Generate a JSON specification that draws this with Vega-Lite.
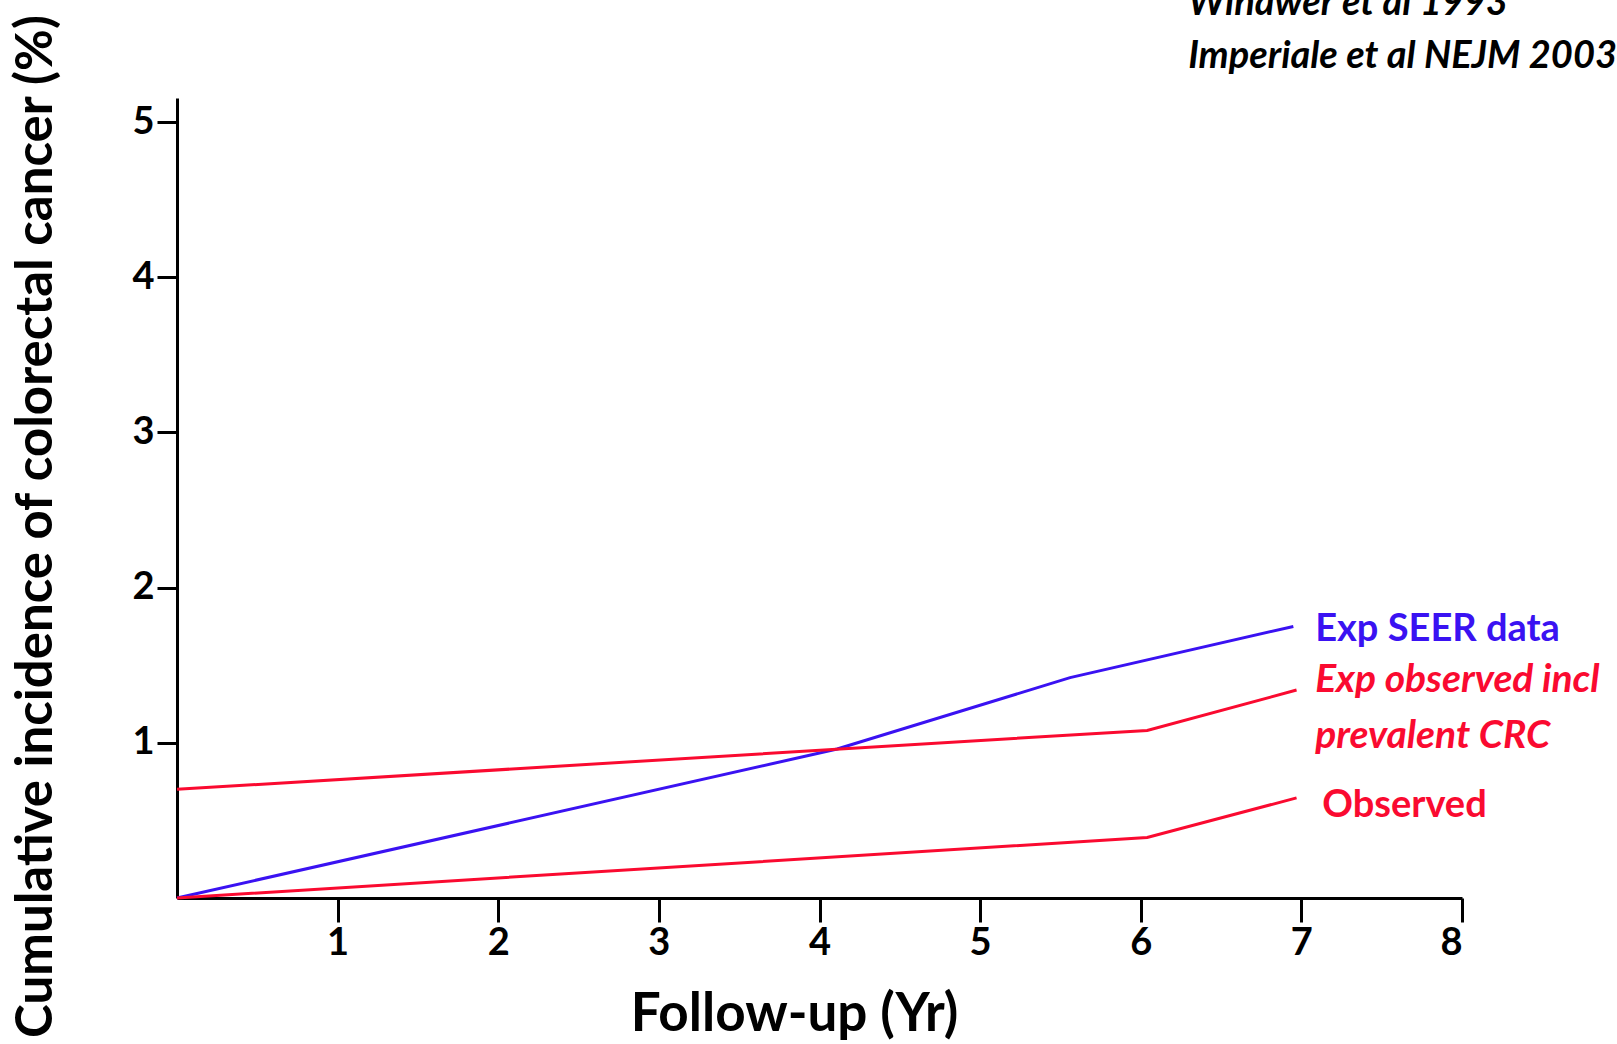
{
  "$schema": "https://vega.github.io/schema/vega-lite/v6.json",
  "autosize": {"type": "none"},
  "padding": {"left": 177, "top": 98, "right": 155, "bottom": 146},
  "width": 1285,
  "height": 800,
  "background": "white",
  "config": {
    "view": {"stroke": null},
    "axis": {"grid": false, "domainColor": "black", "tickColor": "black", "domainWidth": 3, "tickWidth": 3, "labelColor": "black", "titleColor": "black", "labelFont": "Lato", "titleFont": "Lato", "labelFontWeight": "bold", "titleFontWeight": "bold", "labelFontSize": 38, "titleFontSize": 51}
  },
  "datasets": {
    "curves": [
      {"year": 0, "pct": 0, "series": "Exp SEER data"},
      {"year": 4.11, "pct": 0.96, "series": "Exp SEER data"},
      {"year": 5.56, "pct": 1.42, "series": "Exp SEER data"},
      {"year": 6.95, "pct": 1.75, "series": "Exp SEER data"},
      {"year": 0, "pct": 0.7, "series": "Exp observed incl prevalent CRC"},
      {"year": 6.04, "pct": 1.08, "series": "Exp observed incl prevalent CRC"},
      {"year": 6.97, "pct": 1.34, "series": "Exp observed incl prevalent CRC"},
      {"year": 0, "pct": 0, "series": "Observed"},
      {"year": 6.04, "pct": 0.39, "series": "Observed"},
      {"year": 6.97, "pct": 0.645, "series": "Observed"}
    ]
  },
  "layer": [
    {
      "data": {"name": "curves"},
      "mark": {"type": "line", "strokeWidth": 3, "clip": false},
      "encoding": {
        "x": {"field": "year", "type": "quantitative", "scale": {"domain": [0, 8], "nice": false, "zero": false},
          "axis": {"values": [1, 2, 3, 4, 5, 6, 7, 8], "format": "d", "tickSize": 24, "labelPadding": 2, "title": "Follow-up (Yr)", "titleFontSize": 53, "titleX": 617, "titleY": 116, "titleBaseline": "middle", "titleAnchor": null, "titleAlign": "center"}},
        "y": {"field": "pct", "type": "quantitative", "scale": {"domain": [0, 5.155], "nice": false},
          "axis": {"values": [1, 2, 3, 4, 5], "format": "d", "tickSize": 20, "labelPadding": 3, "title": "Cumulative incidence of colorectal cancer (%)", "titleX": -141, "titleY": 428, "titleAngle": -90, "titleBaseline": "middle", "titleAlign": "center", "titleAnchor": null}},
        "color": {"field": "series", "type": "nominal", "legend": null,
          "scale": {"domain": ["Exp SEER data", "Exp observed incl prevalent CRC", "Observed"], "range": ["#3a12f2", "#fa0a30", "#fa0a30"]}},
        "detail": {"field": "series"}
      }
    },
    {
      "data": {"values": [{"year": 7.086, "pct": 1.656, "label": "Exp SEER data"}]},
      "mark": {"type": "text", "align": "left", "baseline": "alphabetic", "font": "Lato", "fontWeight": "bold", "fontSize": 38, "color": "#3a12f2"},
      "encoding": {"x": {"field": "year", "type": "quantitative"}, "y": {"field": "pct", "type": "quantitative"}, "text": {"field": "label"}}
    },
    {
      "data": {"values": [{"year": 7.086, "pct": 1.327, "label": "Exp observed incl"}, {"year": 7.086, "pct": 0.966, "label": "prevalent CRC"}]},
      "mark": {"type": "text", "align": "left", "baseline": "alphabetic", "font": "Lato", "fontWeight": "bold", "fontStyle": "italic", "fontSize": 39, "color": "#fa0a30"},
      "encoding": {"x": {"field": "year", "type": "quantitative"}, "y": {"field": "pct", "type": "quantitative"}, "text": {"field": "label"}}
    },
    {
      "data": {"values": [{"year": 7.13, "pct": 0.522, "label": "Observed"}]},
      "mark": {"type": "text", "align": "left", "baseline": "alphabetic", "font": "Lato", "fontWeight": "bold", "fontSize": 38, "color": "#fa0a30"},
      "encoding": {"x": {"field": "year", "type": "quantitative"}, "y": {"field": "pct", "type": "quantitative"}, "text": {"field": "label"}}
    },
    {
      "data": {"values": [{"year": 6.295, "pct": 5.69, "label": "Winawer et al 1993"}, {"year": 6.295, "pct": 5.348, "label": "Imperiale et al NEJM 2003"}]},
      "mark": {"type": "text", "align": "left", "baseline": "alphabetic", "font": "Lato", "fontWeight": "bold", "fontStyle": "italic", "fontSize": 38, "color": "black"},
      "encoding": {"x": {"field": "year", "type": "quantitative"}, "y": {"field": "pct", "type": "quantitative"}, "text": {"field": "label"}}
    }
  ]
}
